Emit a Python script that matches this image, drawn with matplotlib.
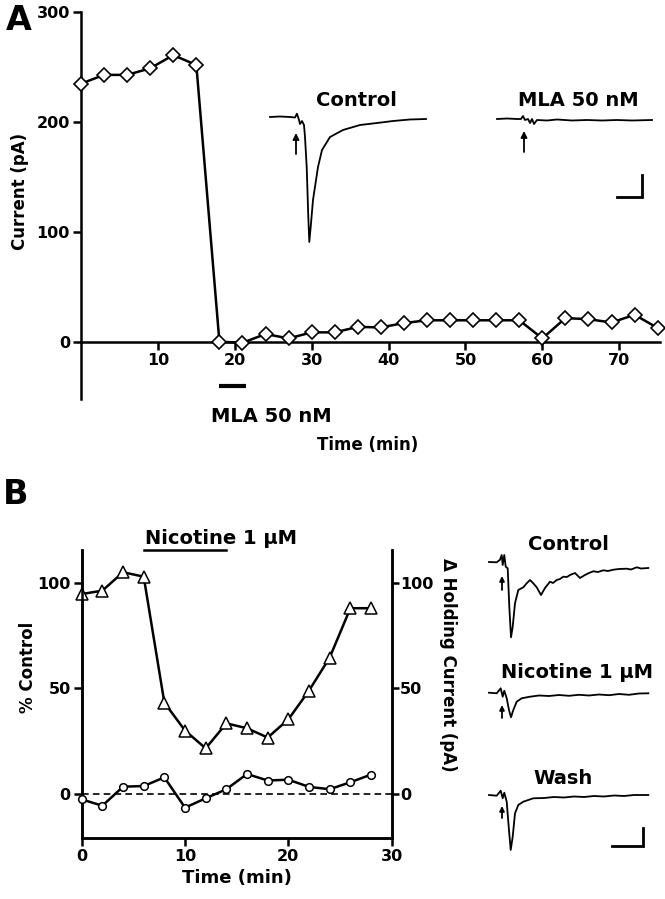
import matplotlib
matplotlib.use("Agg")
import matplotlib.pyplot as plt

W, H = 665, 899

# Panel A: evoked current over time (pA), one point every 3 min
time_a = list(range(0, 76, 3))
current_a = [235, 243, 243, 249, 261, 252, 0, -1, 7, 3, 8.5, 8.5, 13.5, 13, 17, 19.5,
             19.5, 19.5, 19.5, 19.5, 3, 21.5, 20.5, 17.5, 24.5, 12.5]
mla_bar = [18, 21.5]

# Panel B: % control (triangles) and holding current (circles), every 2 min
time_b = list(range(0, 29, 2))
pct_control = [94.6, 96.2, 104.9, 102.8, 43.3, 30.1, 21.7, 33.5, 31.2, 26.8, 35.4,
               49.0, 64.6, 87.9, 87.9]
holding = [-2.4, -5.4, 3.6, 3.9, 8.0, -6.3, -1.9, 2.4, 9.6, 6.5, 6.9, 3.5, 2.4, 5.7, 9.3]
nicotine_bar = [6, 14]

# example traces (time in ms, current relative to baseline)
ta_ctrl = [0, 10, 20, 25, 27, 29, 30, 32, 34, 35, 36.7, 38.3, 39.3, 40.7, 43, 48, 52, 60,
           73, 90, 107, 123, 140, 156]
ia_ctrl = [0, 0.5, 0, -0.5, 3.3, -3, -7, -4, -8, -20, -50, -100, -125, -110, -83, -50,
           -33, -20, -13, -8, -6, -4, -2.5, -2]
ta_mla = [0, 10, 20, 24, 26, 28, 31, 33, 35, 37, 40, 50, 60, 75, 90, 105, 120, 135, 155]
ia_mla = [0, 0.5, 0, 0, 3, -1, 0, -4, 0, -5, -1, -1.5, -0.5, -1.5, -1, -1.5, -1, -1.5, -1]

tb_ctrl = [0, 7.7, 11, 12.7, 13.7, 15.3, 16.7, 18.7, 20.3, 22, 23.7, 26, 29.3, 34.3, 37.7,
           41, 44.3, 47.7, 52, 56, 61, 64, 67.7, 71, 74.3, 78, 81, 86, 91, 96, 100, 104.3,
           109, 114.3, 119, 124.3, 130, 137.7, 142, 147.7, 152, 159.3]
ib_ctrl = [0, -0.3, 2.3, 7, -3, 7, -4.7, -6.3, -44.7, -75.3, -64.7, -41.3, -28, -25.3,
           -21.3, -18, -21.3, -25.3, -33, -26, -19.7, -21, -18, -17, -14.7, -15, -13, -11,
           -16, -13, -11, -9.3, -10, -8.3, -9, -7.7, -7, -6.7, -7.5, -5.3, -6.5, -6]
tb_nic = [0, 7.7, 11.7, 13.7, 15.3, 17.7, 20, 22, 24.3, 27.7, 32.7, 41, 50, 60, 70, 80,
          90, 100, 110, 120, 130, 140, 150, 159.3]
ib_nic = [0.3, -0.3, 4.7, -3.7, 2.3, -5.3, -17, -24.3, -17, -8.7, -5.3, -3.7, -2.5, -3,
          -2, -2.8, -1.8, -2.5, -1.5, -2.2, -1, -1.8, -0.5, -0.3]
tb_wash = [0, 7.7, 11.7, 13.7, 15.3, 17.7, 19.7, 21.7, 23.7, 26, 29.3, 34.3, 44.3, 55,
           65, 75, 85, 95, 105, 115, 125, 135, 145, 159.3]
ib_wash = [0, -0.7, 4.3, -3.3, 2.3, -6.7, -31.7, -55, -41.7, -18.3, -10, -6.7, -3.3, -3,
           -2, -2.5, -1.5, -2, -1, -1.5, -0.5, -1, 0, 0]

plt.rcParams['font.family'] = ['DejaVu Sans']
plt.rcParams['font.weight'] = 'bold'

fig = plt.figure(figsize=(W / 100, H / 100), dpi=100)


def px_rect(left, top, right, bottom):
    return [left / W, 1 - bottom / H, (right - left) / W, (bottom - top) / H]


def style_axis(ax):
    for s in ax.spines.values():
        s.set_linewidth(1.8)
    ax.tick_params(width=1.8, length=6, direction='out', labelsize=11.5, pad=2)
    for lab in ax.get_xticklabels() + ax.get_yticklabels():
        lab.set_fontweight('bold')


# ---- Panel A ----
ax_a = fig.add_axes(px_rect(81, 12.3, 660, 398.8))
ax_a.plot(time_a, current_a, color='k', lw=1.8, marker='D', ms=6.8, mfc='white',
          mec='k', mew=1.2, clip_on=False, zorder=3)
ax_a.set_xlim(0, 75.3)
ax_a.set_ylim(-52, 300)
ax_a.spines['top'].set_visible(False)
ax_a.spines['right'].set_visible(False)
ax_a.spines['bottom'].set_position(('data', 0))
ax_a.set_xticks([10, 20, 30, 40, 50, 60, 70])
ax_a.set_yticks([0, 100, 200, 300])
ax_a.patch.set_alpha(0)
style_axis(ax_a)
ax_a.plot(mla_bar, [-40, -40], color='k', lw=3, solid_capstyle='butt', clip_on=False)

# ---- Panel B ----
ax_b = fig.add_axes(px_rect(81.7, 550, 391.7, 837.7))
ax_b.plot(time_b, pct_control, color='k', lw=1.8, marker='^', ms=8.5, mfc='white',
          mec='k', mew=1.1, clip_on=False, zorder=3)
ax_b.axhline(0, color='k', lw=1.2, ls=(0, (4, 2.5)), zorder=1)
ax_b.set_xlim(0, 30)
ax_b.set_ylim(-20.5, 115.4)
ax_b.spines['top'].set_visible(False)
ax_b.set_xticks([0, 10, 20, 30])
ax_b.set_yticks([0, 50, 100])
ax_b.set_xlabel('Time (min)', fontsize=13, fontweight='bold', labelpad=4)
style_axis(ax_b)

ax_r = ax_b.twinx()
ax_r.plot(time_b, holding, color='k', lw=1.8, marker='o', ms=5.5, mfc='white',
          mec='k', mew=1.1, clip_on=False, zorder=3)
ax_r.set_ylim(-20.5, 115.4)
ax_r.set_yticks([0, 50, 100])
ax_r.spines['top'].set_visible(False)
style_axis(ax_r)
ax_r.tick_params(length=5, pad=1)

ax_b.plot(nicotine_bar, [115.4, 115.4], color='k', lw=1.8, clip_on=False)
ax_b.text(nicotine_bar[0] + 0.1, 118, 'Nicotine 1 \u03bcM', fontsize=14,
          fontweight='bold', ha='left', va='baseline')

# ---- overlay for traces, labels, scale bars ----
ov = fig.add_axes([0, 0, 1, 1])
ov.set_xlim(0, W)
ov.set_ylim(H, 0)
ov.axis('off')
ov.patch.set_alpha(0)


def draw_trace(x0, y0, ts, cur, stim, tail, tip, head=9):
    ov.plot([x0 + t for t in ts], [y0 - c for c in cur], color='k', lw=1.3)
    ov.annotate('', xy=(x0 + stim, y0 - tip), xytext=(x0 + stim, y0 - tail),
                arrowprops=dict(arrowstyle='-|>', color='k', lw=1.3,
                                mutation_scale=head, shrinkA=0, shrinkB=0))


def scale_bar(x_left, x_right, y_bottom, y_top):
    ov.plot([x_left, x_right, x_right], [y_bottom, y_bottom, y_top], color='k', lw=2,
            solid_joinstyle='miter')


draw_trace(270, 117, ta_ctrl, ia_ctrl, 26, -37, -16)
draw_trace(497, 119, ta_mla, ia_mla, 27, -33, -12)
scale_bar(617, 642, 197, 175)

draw_trace(489, 562, tb_ctrl, ib_ctrl, 13, -28, -14, head=7)
draw_trace(489, 693, tb_nic, ib_nic, 13, -25, -12, head=7)
draw_trace(489, 795, tb_wash, ib_wash, 13, -23, -11, head=7)
scale_bar(612, 643, 846, 828)

txt = dict(fontweight='bold', ha='center', va='center')
ov.text(19, 20, 'A', fontsize=24, **txt)
ov.text(16, 494, 'B', fontsize=24, **txt)
ov.text(20, 191, 'Current (pA)', fontsize=12, rotation=90, **txt)
ov.text(356, 100, 'Control', fontsize=14, **txt)
ov.text(578, 100, 'MLA 50 nM', fontsize=14, **txt)
ov.text(271, 416, 'MLA 50 nM', fontsize=14, **txt)
ov.text(368, 445, 'Time (min)', fontsize=12, **txt)
ov.text(28, 667, '% Control', fontsize=12, rotation=90, **txt)
ov.text(448, 665, '\u0394 Holding Current (pA)', fontsize=12, rotation=270, **txt)
ov.text(568, 545, 'Control', fontsize=14, **txt)
ov.text(577, 673, 'Nicotine 1 \u03bcM', fontsize=14, **txt)
ov.text(563, 778, 'Wash', fontsize=14, **txt)

fig.savefig('out.png', dpi=100)
